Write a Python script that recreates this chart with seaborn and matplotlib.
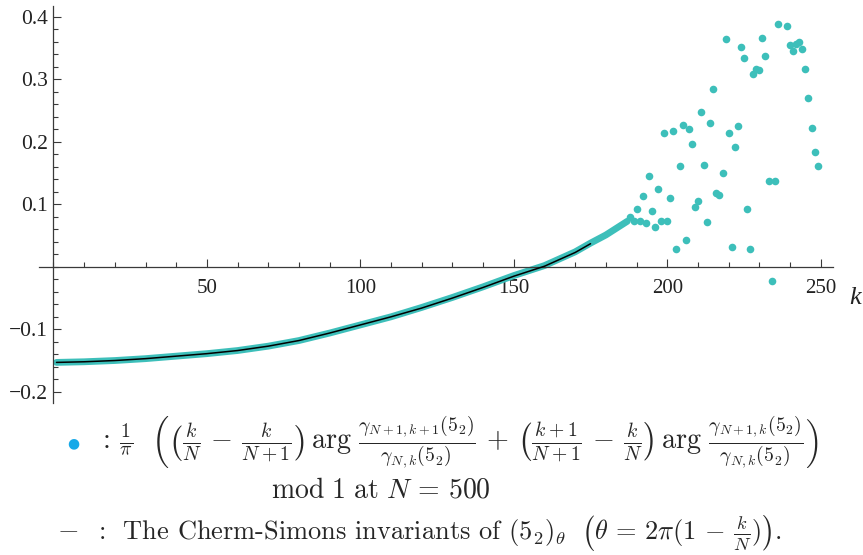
import numpy as np
import pandas as pd
import matplotlib
matplotlib.use('Agg')
import matplotlib.pyplot as plt
from matplotlib.ticker import MultipleLocator, FixedLocator
import seaborn as sns

# Smooth part of the numerical values (dense dots, k = 1 .. 187)
band_k = [1, 10, 20, 30, 40, 50, 60, 70, 80, 90, 100, 110, 120, 130, 140,
          150, 160, 170, 175, 180, 187]
band_val = [-0.153, -0.152, -0.150, -0.147, -0.143, -0.139, -0.134, -0.127,
            -0.118, -0.106, -0.093, -0.080, -0.065, -0.049, -0.032, -0.014,
            0.002, 0.024, 0.038, 0.051, 0.073]

# Scattered part (k = 188 .. 249)
scat_k = [188, 189, 190, 191, 192, 193, 194, 195, 196, 197, 198, 199, 200,
          201, 202, 203, 204, 205, 206, 207, 208, 209, 210, 211, 212, 213,
          214, 215, 216, 217, 218, 219, 220, 221, 222, 223, 224, 225, 226,
          227, 228, 229, 230, 231, 232, 233, 234, 235, 236, 239, 240, 241,
          242, 243, 244, 245, 246, 247, 248, 249]
scat_val = [0.080, 0.074, 0.093, 0.073, 0.113, 0.070, 0.145, 0.089, 0.063,
            0.125, 0.074, 0.214, 0.073, 0.111, 0.218, 0.028, 0.161, 0.227,
            0.043, 0.221, 0.197, 0.096, 0.106, 0.248, 0.163, 0.071, 0.231,
            0.284, 0.118, 0.115, 0.151, 0.365, 0.215, 0.032, 0.192, 0.225,
            0.352, 0.334, 0.092, 0.028, 0.308, 0.317, 0.315, 0.367, 0.338,
            0.137, -0.022, 0.137, 0.389, 0.385, 0.355, 0.346, 0.356, 0.360,
            0.349, 0.317, 0.270, 0.222, 0.184, 0.161]

# Chern-Simons invariant curve (black line)
cs_k = [1, 10, 20, 30, 40, 50, 60, 70, 80, 90, 100, 110, 120, 130, 140,
        150, 160, 170, 175]
cs_val = [-0.153, -0.152, -0.150, -0.147, -0.143, -0.139, -0.134, -0.127,
          -0.118, -0.106, -0.093, -0.080, -0.066, -0.050, -0.033, -0.015,
          0.001, 0.023, 0.037]

x_major = [50, 100, 150, 200, 250]
y_major = [-0.2, -0.1, 0.1, 0.2, 0.3, 0.4]

teal = '#3DBFBA'
axis_col = '#3a3a3a'

sns.set_style('white')
plt.rcParams['font.family'] = ['Liberation Serif', 'DejaVu Serif']
plt.rcParams['mathtext.fontset'] = 'cm'

W, H = 863, 555
fig = plt.figure(figsize=(W / 100, H / 100), dpi=100)
ax = fig.add_axes([39 / W, 1 - 403 / H, (833 - 39) / W, (403 - 6) / H])

band = pd.DataFrame({'k': band_k, 'v': band_val})
scat = pd.DataFrame({'k': scat_k, 'v': scat_val})
cs = pd.DataFrame({'k': cs_k, 'v': cs_val})

sns.lineplot(data=band, x='k', y='v', ax=ax, color=teal, lw=4.9,
             solid_capstyle='round', zorder=2)
sns.scatterplot(data=scat, x='k', y='v', ax=ax, color=teal, s=30,
                linewidth=0, zorder=3)
sns.lineplot(data=cs, x='k', y='v', ax=ax, color='black', lw=1.1, zorder=4)

ax.set_xlim(-4.7, 254)
ax.set_ylim(-0.218, 0.4176)
ax.set_xlabel('')
ax.set_ylabel('')

for s in ['top', 'right']:
    ax.spines[s].set_visible(False)
for s in ['left', 'bottom']:
    ax.spines[s].set_position(('data', 0))
    ax.spines[s].set_color(axis_col)
    ax.spines[s].set_linewidth(0.9)

ax.xaxis.set_major_locator(FixedLocator(x_major))
ax.xaxis.set_minor_locator(MultipleLocator(10))
ax.yaxis.set_major_locator(FixedLocator(y_major))
ax.yaxis.set_minor_locator(MultipleLocator(0.02))
ax.set_xticklabels([str(v) for v in x_major])
ax.set_yticklabels([f'{v:.1f}'.replace('-', '\u2212') for v in y_major])

ax.tick_params(axis='both', which='both', direction='in', color=axis_col,
               width=0.8, labelcolor='#222222', bottom=True, left=True)
ax.tick_params(axis='x', which='major', length=6, pad=8.5, labelsize=15)
ax.tick_params(axis='x', which='minor', length=3.3)
ax.tick_params(axis='y', which='major', length=6, pad=4, labelsize=15.5)
ax.tick_params(axis='y', which='minor', length=3.6)

fig.text(855 / W, 1 - 298 / H, 'k', style='italic', fontsize=19,
         ha='center', va='center', color='#222222')

# legend text underneath
fig.text(73 / W, 1 - 443 / H, '\u25CF', color='#17A9E8', fontsize=10,
         ha='center', va='center', family='DejaVu Sans')
line1 = (r'$:\,\frac{1}{\pi}\ \ \left(\left(\frac{k}{N}\,-\,\frac{k}{N+1}\right)\,'
         r'\arg\,\frac{\gamma_{N+1,k+1}(5_2)}{\gamma_{N,k}(5_2)}\,+\,'
         r'\left(\frac{k+1}{N+1}\,-\,\frac{k}{N}\right)\,'
         r'\arg\,\frac{\gamma_{N+1,k}(5_2)}{\gamma_{N,k}(5_2)}\right)$')
fig.text(98 / W, 1 - 443 / H, line1, fontsize=20.3, ha='left', va='center')
fig.text(381 / W, 1 - 497 / H, r'$\mathrm{mod}\ 1\ \mathrm{at}\ N\,=\,500$',
         fontsize=20, ha='center', va='baseline')
fig.text(68 / W, 1 - 536 / H, r'$-$', fontsize=20, ha='center',
         va='baseline')
fig.text(98 / W, 1 - 533 / H,
         r':  The Cherm-Simons invariants of '
         r'$(5_2)_\theta\ \ \left(\theta\,=\,2\pi(1\,-\,\frac{k}{N})\right).$',
         fontsize=19, ha='left', va='center', family='cmr10')

fig.savefig('out.png', dpi=100)
